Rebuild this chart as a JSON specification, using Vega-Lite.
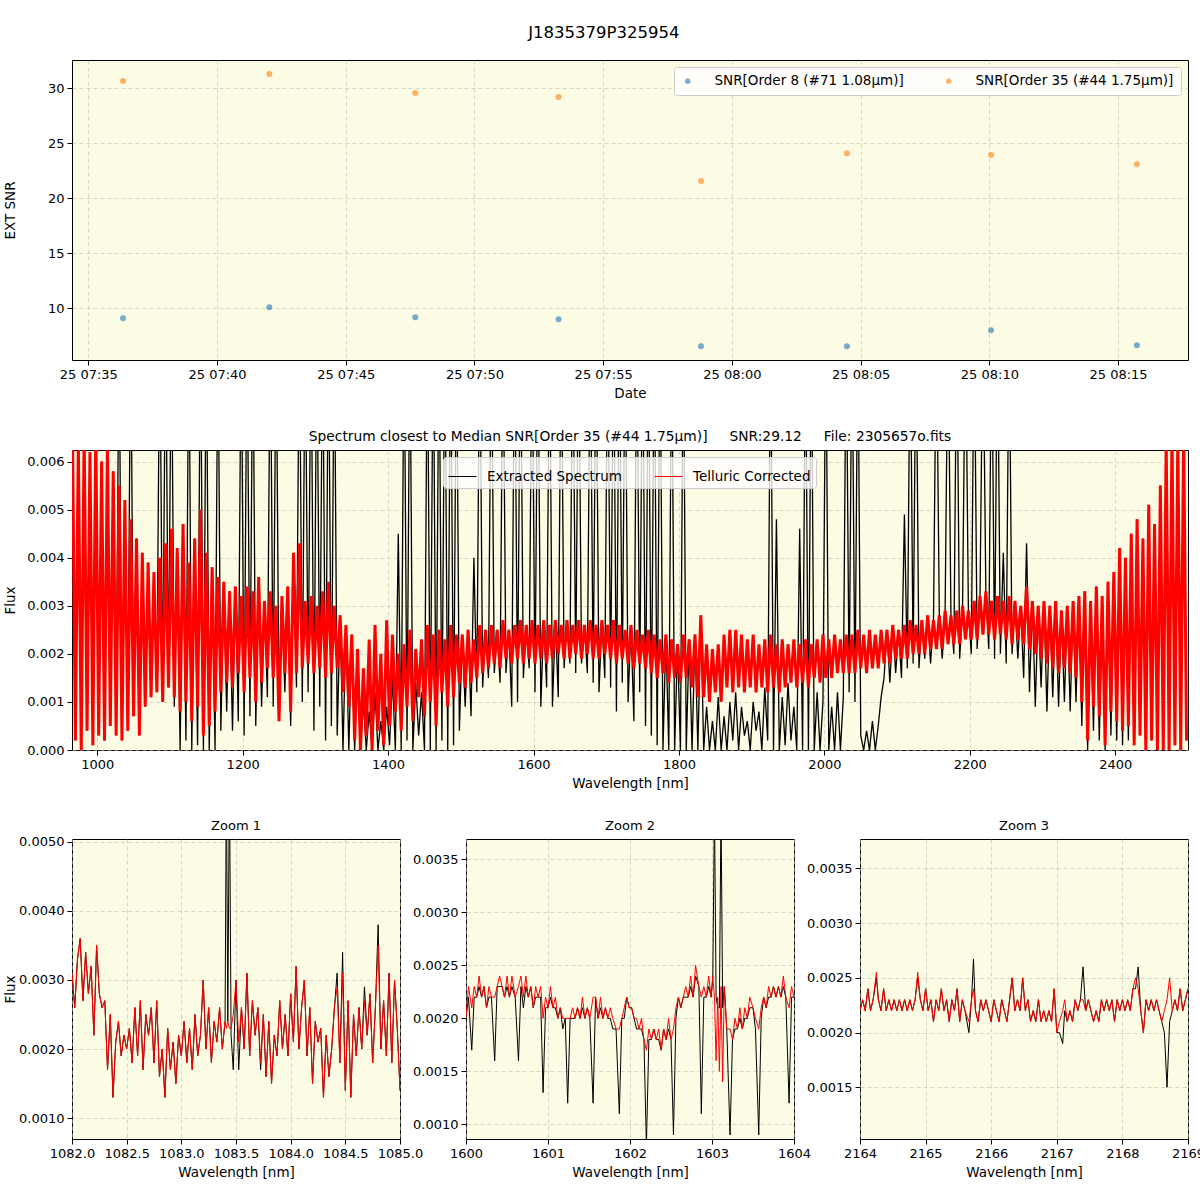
{
"$schema": "https://vega.github.io/schema/vega-lite/v6.json",
"background": "white",
"padding": {"left": 2, "top": 25, "right": 0, "bottom": 0},
"title": {"text": "J1835379P325954", "fontSize": 16.5, "fontWeight": "normal", "font": "DejaVu Sans", "anchor": "middle", "offset": 18, "color": "black"},
"config": {
 "font": "DejaVu Sans",
 "view": {"fill": "#FCFBE3", "stroke": "black", "strokeWidth": 1},
 "axis": {"labelFont": "DejaVu Sans", "labelFontSize": 13, "labelColor": "black", "titleFont": "DejaVu Sans", "titleFontSize": 13.5, "titleFontWeight": "normal", "titleColor": "black", "domain": false, "tickColor": "black", "tickSize": 5, "tickWidth": 1, "labelPadding": 3, "titlePadding": 5, "grid": true, "gridColor": "#b8b8b8", "gridDash": [4, 3], "gridWidth": 0.8, "gridOpacity": 0.7, "labelFlush": false, "labelOverlap": false},
 "title": {"font": "DejaVu Sans", "fontWeight": "normal", "color": "black"},
 "legend": {"labelFont": "DejaVu Sans", "labelFontSize": 13.5, "labelColor": "black", "labelLimit": 400}
},
"datasets": {
 "snr": [
  {"t": 1685000181000, "snr": 9.09, "s": "SNR[Order 8 (#71 1.08μm)]"},
  {"t": 1685000522000, "snr": 10.09, "s": "SNR[Order 8 (#71 1.08μm)]"},
  {"t": 1685000862000, "snr": 9.18, "s": "SNR[Order 8 (#71 1.08μm)]"},
  {"t": 1685001196000, "snr": 9.0, "s": "SNR[Order 8 (#71 1.08μm)]"},
  {"t": 1685001528000, "snr": 6.55, "s": "SNR[Order 8 (#71 1.08μm)]"},
  {"t": 1685001868000, "snr": 6.55, "s": "SNR[Order 8 (#71 1.08μm)]"},
  {"t": 1685002204000, "snr": 8.0, "s": "SNR[Order 8 (#71 1.08μm)]"},
  {"t": 1685002544000, "snr": 6.64, "s": "SNR[Order 8 (#71 1.08μm)]"},
  {"t": 1685000181000, "snr": 30.64, "s": "SNR[Order 35 (#44 1.75μm)]"},
  {"t": 1685000522000, "snr": 31.27, "s": "SNR[Order 35 (#44 1.75μm)]"},
  {"t": 1685000862000, "snr": 29.55, "s": "SNR[Order 35 (#44 1.75μm)]"},
  {"t": 1685001196000, "snr": 29.18, "s": "SNR[Order 35 (#44 1.75μm)]"},
  {"t": 1685001528000, "snr": 21.55, "s": "SNR[Order 35 (#44 1.75μm)]"},
  {"t": 1685001868000, "snr": 24.09, "s": "SNR[Order 35 (#44 1.75μm)]"},
  {"t": 1685002204000, "snr": 23.91, "s": "SNR[Order 35 (#44 1.75μm)]"},
  {"t": 1685002544000, "snr": 23.09, "s": "SNR[Order 35 (#44 1.75μm)]"}
 ],
 "mid": [
  {"x":966,"r":0.0065,"b":0.0065},{"x":970,"r":0.0002,"b":0.0002},{"x":974,"r":0.0064,"b":0.0064},{"x":978,"r":0.0000,"b":0.0000},
  {"x":982,"r":0.0066,"b":0.0066},{"x":986,"r":0.0004,"b":0.0004},{"x":990,"r":0.0062,"b":0.0062},{"x":994,"r":0.0001,"b":0.0001},
  {"x":998,"r":0.0066,"b":0.0066},{"x":1002,"r":0.0003,"b":0.0003},{"x":1006,"r":0.0060,"b":0.0060},{"x":1010,"r":0.0002,"b":0.0002},
  {"x":1014,"r":0.0063,"b":0.0063},{"x":1018,"r":0.0005,"b":0.0005},{"x":1022,"r":0.0058,"b":0.0058},{"x":1026,"r":0.0003,"b":0.0003},
  {"x":1030,"r":0.0055,"b":0.009},{"x":1034,"r":0.0002,"b":0.0002},
  {"x":1038,"r":0.0052,"b":0.0052},{"x":1042,"r":0.0004,"b":0.0004},{"x":1046,"r":0.0048,"b":0.009},{"x":1050,"r":0.0007,"b":0.0007},
  {"x":1054,"r":0.0044,"b":0.0044},{"x":1058,"r":0.0003,"b":0.0003},{"x":1062,"r":0.0041,"b":0.0041},{"x":1066,"r":0.0009,"b":0.0009},
  {"x":1070,"r":0.0039,"b":0.0039},{"x":1074,"r":0.0011,"b":0.0011},{"x":1078,"r":0.0037,"b":0.0037},{"x":1082,"r":0.0012,"b":0.0012},
  {"x":1086,"r":0.0040,"b":0.009},{"x":1090,"r":0.0010,"b":0.0010},{"x":1094,"r":0.0043,"b":0.009},{"x":1098,"r":0.0013,"b":0.0013},
  {"x":1102,"r":0.0046,"b":0.009},{"x":1106,"r":0.0011,"b":0.0009},{"x":1110,"r":0.0042,"b":0.0042},{"x":1114,"r":0.0008,"b":0.0000},
  {"x":1118,"r":0.0047,"b":0.0047},{"x":1122,"r":0.0010,"b":0.0002},{"x":1126,"r":0.0039,"b":0.009},{"x":1130,"r":0.0006,"b":0.0000},
  {"x":1134,"r":0.0044,"b":0.0044},{"x":1138,"r":0.0009,"b":0.0001},{"x":1142,"r":0.0050,"b":0.009},{"x":1146,"r":0.0003,"b":0.0000},
  {"x":1150,"r":0.0041,"b":0.009},{"x":1154,"r":0.0005,"b":0.0000},{"x":1158,"r":0.0038,"b":0.0038},{"x":1162,"r":0.0008,"b":0.0000},
  {"x":1166,"r":0.0036,"b":0.009},{"x":1170,"r":0.0012,"b":0.0004},
  {"x":1174,"r":0.0035,"b":0.0035},{"x":1178,"r":0.0014,"b":0.0008},{"x":1182,"r":0.0033,"b":0.0033},{"x":1186,"r":0.0013,"b":0.0004},
  {"x":1190,"r":0.0034,"b":0.0034},{"x":1194,"r":0.0016,"b":0.0006},{"x":1198,"r":0.0032,"b":0.009},{"x":1202,"r":0.0012,"b":0.0003},
  {"x":1206,"r":0.0034,"b":0.009},{"x":1210,"r":0.0015,"b":0.0007},{"x":1214,"r":0.0033,"b":0.009},{"x":1218,"r":0.0010,"b":0.0005},
  {"x":1222,"r":0.0036,"b":0.0036},{"x":1226,"r":0.0014,"b":0.0009},{"x":1230,"r":0.0031,"b":0.0031},{"x":1234,"r":0.0017,"b":0.0011},
  {"x":1238,"r":0.0033,"b":0.009},{"x":1242,"r":0.0015,"b":0.0009},{"x":1246,"r":0.0030,"b":0.009},{"x":1250,"r":0.0006,"b":0.0006},
  {"x":1254,"r":0.0032,"b":0.0032},{"x":1258,"r":0.0016,"b":0.0012},{"x":1262,"r":0.0034,"b":0.0034},{"x":1266,"r":0.0008,"b":0.0005},
  {"x":1270,"r":0.0041,"b":0.0041},{"x":1274,"r":0.0016,"b":0.0013},{"x":1278,"r":0.0043,"b":0.009},{"x":1282,"r":0.0017,"b":0.0010},
  {"x":1286,"r":0.0031,"b":0.009},{"x":1290,"r":0.0018,"b":0.0012},{"x":1294,"r":0.0032,"b":0.009},{"x":1298,"r":0.0016,"b":0.0004},
  {"x":1302,"r":0.0030,"b":0.009},{"x":1306,"r":0.0017,"b":0.0009},{"x":1310,"r":0.0033,"b":0.009},{"x":1314,"r":0.0015,"b":0.0002},
  {"x":1318,"r":0.0035,"b":0.009},{"x":1322,"r":0.0016,"b":0.0005},{"x":1326,"r":0.0030,"b":0.009},{"x":1330,"r":0.0017,"b":0.0003},
  {"x":1334,"r":0.0028,"b":0.0028},{"x":1338,"r":0.0012,"b":0.0000},{"x":1342,"r":0.0026,"b":0.0026},{"x":1346,"r":0.0009,"b":0.0000},
  {"x":1350,"r":0.0024,"b":0.0024},
  {"x":1354,"r":0.0002,"b":0.0000},{"x":1358,"r":0.0021,"b":0.0021},{"x":1362,"r":0.0000,"b":0.0000},{"x":1366,"r":0.0017,"b":0.0010},
  {"x":1370,"r":0.0003,"b":0.0000},{"x":1374,"r":0.0023,"b":0.0008},{"x":1378,"r":0.0000,"b":0.0000},{"x":1382,"r":0.0026,"b":0.0012},
  {"x":1386,"r":0.0004,"b":0.0000},{"x":1390,"r":0.0020,"b":0.0006},{"x":1394,"r":0.0001,"b":0.0000},{"x":1398,"r":0.0027,"b":0.0009},
  {"x":1402,"r":0.0005,"b":0.0001},{"x":1406,"r":0.0024,"b":0.0015},{"x":1410,"r":0.0008,"b":0.0000},{"x":1414,"r":0.0020,"b":0.0045},
  {"x":1418,"r":0.0004,"b":0.0000},{"x":1422,"r":0.0022,"b":0.009},{"x":1426,"r":0.0009,"b":0.0002},{"x":1430,"r":0.0025,"b":0.009},
  {"x":1434,"r":0.0006,"b":0.0000},{"x":1438,"r":0.0021,"b":0.0014},{"x":1442,"r":0.0011,"b":0.0003},{"x":1446,"r":0.0023,"b":0.0012},
  {"x":1450,"r":0.0007,"b":0.0000},{"x":1454,"r":0.0026,"b":0.009},{"x":1458,"r":0.0010,"b":0.0000},{"x":1462,"r":0.0024,"b":0.009},
  {"x":1466,"r":0.0005,"b":0.0000},{"x":1470,"r":0.0025,"b":0.009},{"x":1474,"r":0.0012,"b":0.0002},{"x":1478,"r":0.0023,"b":0.009},
  {"x":1482,"r":0.0009,"b":0.0000},{"x":1486,"r":0.0026,"b":0.009},{"x":1490,"r":0.0011,"b":0.0001},{"x":1494,"r":0.0024,"b":0.009},
  {"x":1498,"r":0.0014,"b":0.0004},
  {"x":1502,"r":0.0024,"b":0.0024},{"x":1506,"r":0.0013,"b":0.0009},{"x":1510,"r":0.0025,"b":0.0025},{"x":1514,"r":0.0014,"b":0.0007},
  {"x":1518,"r":0.0023,"b":0.0040},{"x":1522,"r":0.0015,"b":0.0012},{"x":1526,"r":0.0026,"b":0.009},{"x":1530,"r":0.0016,"b":0.0013},
  {"x":1534,"r":0.0025,"b":0.0025},{"x":1538,"r":0.0017,"b":0.0015},{"x":1542,"r":0.0026,"b":0.009},{"x":1546,"r":0.0018,"b":0.0016},
  {"x":1550,"r":0.0025,"b":0.0025},{"x":1554,"r":0.0017,"b":0.0014},{"x":1558,"r":0.0027,"b":0.009},{"x":1562,"r":0.0019,"b":0.0016},
  {"x":1566,"r":0.0025,"b":0.0025},{"x":1570,"r":0.0018,"b":0.0009},{"x":1574,"r":0.0026,"b":0.009},{"x":1578,"r":0.0019,"b":0.0010},
  {"x":1582,"r":0.0027,"b":0.009},{"x":1586,"r":0.0018,"b":0.0015},{"x":1590,"r":0.0026,"b":0.0026},{"x":1594,"r":0.0019,"b":0.0017},
  {"x":1598,"r":0.0027,"b":0.009},{"x":1602,"r":0.0018,"b":0.0012},{"x":1606,"r":0.0026,"b":0.009},{"x":1610,"r":0.0019,"b":0.0009},
  {"x":1614,"r":0.0027,"b":0.0027},{"x":1618,"r":0.0018,"b":0.0013},{"x":1622,"r":0.0026,"b":0.009},{"x":1626,"r":0.0019,"b":0.0009},
  {"x":1630,"r":0.0027,"b":0.0027},{"x":1634,"r":0.0020,"b":0.0011},{"x":1638,"r":0.0026,"b":0.009},{"x":1642,"r":0.0019,"b":0.0017},
  {"x":1646,"r":0.0027,"b":0.0027},{"x":1650,"r":0.0019,"b":0.0018},{"x":1654,"r":0.0026,"b":0.009},{"x":1658,"r":0.0020,"b":0.0016},
  {"x":1662,"r":0.0027,"b":0.009},{"x":1666,"r":0.0019,"b":0.0018},{"x":1670,"r":0.0026,"b":0.0026},{"x":1674,"r":0.0020,"b":0.0016},
  {"x":1678,"r":0.0027,"b":0.009},{"x":1682,"r":0.0019,"b":0.0014},{"x":1686,"r":0.0026,"b":0.009},{"x":1690,"r":0.0019,"b":0.0012},
  {"x":1694,"r":0.0027,"b":0.0027},{"x":1698,"r":0.0020,"b":0.0015},
  {"x":1702,"r":0.0026,"b":0.009},{"x":1706,"r":0.0019,"b":0.0013},{"x":1710,"r":0.0027,"b":0.009},{"x":1714,"r":0.0018,"b":0.0008},
  {"x":1718,"r":0.0026,"b":0.009},{"x":1722,"r":0.0019,"b":0.0014},{"x":1726,"r":0.0025,"b":0.009},{"x":1730,"r":0.0018,"b":0.0010},
  {"x":1734,"r":0.0026,"b":0.0026},{"x":1738,"r":0.0017,"b":0.0006},{"x":1742,"r":0.0025,"b":0.009},{"x":1746,"r":0.0018,"b":0.0012},
  {"x":1750,"r":0.0024,"b":0.009},{"x":1754,"r":0.0017,"b":0.0005},{"x":1758,"r":0.0025,"b":0.009},
  {"x":1762,"r":0.0016,"b":0.0003},{"x":1766,"r":0.0024,"b":0.009},{"x":1770,"r":0.0015,"b":0.0001},{"x":1774,"r":0.0023,"b":0.009},
  {"x":1778,"r":0.0016,"b":0.0000},{"x":1782,"r":0.0024,"b":0.0024},{"x":1786,"r":0.0014,"b":0.0000},{"x":1790,"r":0.0023,"b":0.009},
  {"x":1794,"r":0.0015,"b":0.0000},{"x":1798,"r":0.0022,"b":0.0022},{"x":1802,"r":0.0014,"b":0.0000},{"x":1806,"r":0.0024,"b":0.009},
  {"x":1810,"r":0.0015,"b":0.0000},{"x":1814,"r":0.0023,"b":0.0023},{"x":1818,"r":0.0013,"b":0.0000},{"x":1822,"r":0.0024,"b":0.0024},
  {"x":1826,"r":0.0011,"b":0.0000},{"x":1830,"r":0.0028,"b":0.0028},
  {"x":1834,"r":0.0011,"b":0.0000},{"x":1838,"r":0.0022,"b":0.0009},{"x":1842,"r":0.0010,"b":0.0000},{"x":1846,"r":0.0021,"b":0.0006},
  {"x":1850,"r":0.0012,"b":0.0000},{"x":1854,"r":0.0022,"b":0.0011},{"x":1858,"r":0.0010,"b":0.0000},{"x":1862,"r":0.0024,"b":0.0007},
  {"x":1866,"r":0.0013,"b":0.0000},{"x":1870,"r":0.0025,"b":0.0010},
  {"x":1874,"r":0.0012,"b":0.0002},{"x":1878,"r":0.0025,"b":0.0012},{"x":1882,"r":0.0013,"b":0.0000},{"x":1886,"r":0.0024,"b":0.0009},
  {"x":1890,"r":0.0012,"b":0.0003},{"x":1894,"r":0.0023,"b":0.0006},{"x":1898,"r":0.0013,"b":0.0000},{"x":1902,"r":0.0024,"b":0.0010},
  {"x":1906,"r":0.0012,"b":0.0004},{"x":1910,"r":0.0022,"b":0.0008},{"x":1914,"r":0.0013,"b":0.0000},{"x":1918,"r":0.0023,"b":0.0013},
  {"x":1922,"r":0.0012,"b":0.0002},{"x":1926,"r":0.0024,"b":0.009},{"x":1930,"r":0.0013,"b":0.0000},{"x":1934,"r":0.0022,"b":0.0048},
  {"x":1938,"r":0.0012,"b":0.0000},{"x":1942,"r":0.0023,"b":0.0011},{"x":1946,"r":0.0013,"b":0.0001},{"x":1950,"r":0.0022,"b":0.0014},
  {"x":1954,"r":0.0014,"b":0.0002},{"x":1958,"r":0.0023,"b":0.0009},
  {"x":1962,"r":0.0013,"b":0.0000},{"x":1966,"r":0.0022,"b":0.0046},{"x":1970,"r":0.0014,"b":0.0000},{"x":1974,"r":0.0023,"b":0.009},
  {"x":1978,"r":0.0013,"b":0.0000},{"x":1982,"r":0.0022,"b":0.009},{"x":1986,"r":0.0015,"b":0.0000},{"x":1990,"r":0.0023,"b":0.0012},
  {"x":1994,"r":0.0014,"b":0.0000},{"x":1998,"r":0.0024,"b":0.0010},{"x":2002,"r":0.0015,"b":0.009},{"x":2006,"r":0.0023,"b":0.0000},
  {"x":2010,"r":0.0015,"b":0.0009},{"x":2014,"r":0.0024,"b":0.0000},{"x":2018,"r":0.0016,"b":0.0012},{"x":2022,"r":0.0023,"b":0.0000},
  {"x":2026,"r":0.0016,"b":0.0011},{"x":2030,"r":0.0024,"b":0.009},
  {"x":2034,"r":0.0016,"b":0.0012},{"x":2038,"r":0.0024,"b":0.009},{"x":2042,"r":0.0016,"b":0.0010},{"x":2046,"r":0.0025,"b":0.009},
  {"x":2050,"r":0.0017,"b":0.0003},{"x":2054,"r":0.0024,"b":0.0000},{"x":2058,"r":0.0016,"b":0.0004},{"x":2062,"r":0.0025,"b":0.0000},
  {"x":2066,"r":0.0017,"b":0.0006},{"x":2070,"r":0.0024,"b":0.0000},{"x":2074,"r":0.0017,"b":0.0005},{"x":2078,"r":0.0025,"b":0.0011},
  {"x":2082,"r":0.0018,"b":0.0015},{"x":2086,"r":0.0025,"b":0.0025},{"x":2090,"r":0.0018,"b":0.0014},{"x":2094,"r":0.0026,"b":0.0026},
  {"x":2098,"r":0.0019,"b":0.0016},{"x":2102,"r":0.0025,"b":0.0025},{"x":2106,"r":0.0019,"b":0.0015},{"x":2110,"r":0.0026,"b":0.0049},
  {"x":2114,"r":0.0019,"b":0.0017},{"x":2118,"r":0.0027,"b":0.009},{"x":2122,"r":0.0020,"b":0.0018},{"x":2126,"r":0.0026,"b":0.009},
  {"x":2130,"r":0.0020,"b":0.0017},{"x":2134,"r":0.0027,"b":0.0027},{"x":2138,"r":0.0020,"b":0.0019},{"x":2142,"r":0.0028,"b":0.0028},
  {"x":2146,"r":0.0021,"b":0.0018},{"x":2150,"r":0.0027,"b":0.0027},
  {"x":2154,"r":0.0021,"b":0.009},{"x":2158,"r":0.0028,"b":0.0028},{"x":2162,"r":0.0021,"b":0.0019},{"x":2166,"r":0.0029,"b":0.0029},
  {"x":2170,"r":0.0022,"b":0.009},{"x":2174,"r":0.0028,"b":0.0028},{"x":2178,"r":0.0022,"b":0.0020},{"x":2182,"r":0.0029,"b":0.009},
  {"x":2186,"r":0.0022,"b":0.0019},{"x":2190,"r":0.0030,"b":0.0030},{"x":2194,"r":0.0023,"b":0.009},{"x":2198,"r":0.0029,"b":0.0029},
  {"x":2202,"r":0.0023,"b":0.0020},{"x":2206,"r":0.0031,"b":0.009},{"x":2210,"r":0.0023,"b":0.0021},{"x":2214,"r":0.0032,"b":0.0032},
  {"x":2218,"r":0.0024,"b":0.009},{"x":2222,"r":0.0033,"b":0.0033},{"x":2226,"r":0.0024,"b":0.0021},{"x":2230,"r":0.0031,"b":0.009},
  {"x":2234,"r":0.0023,"b":0.0019},{"x":2238,"r":0.0032,"b":0.009},{"x":2242,"r":0.0024,"b":0.0020},{"x":2246,"r":0.0031,"b":0.0041},
  {"x":2250,"r":0.0023,"b":0.0018},{"x":2254,"r":0.0032,"b":0.009},{"x":2258,"r":0.0022,"b":0.0020},{"x":2262,"r":0.0031,"b":0.0031},
  {"x":2266,"r":0.0023,"b":0.0019},{"x":2270,"r":0.0030,"b":0.0030},{"x":2274,"r":0.0022,"b":0.0015},{"x":2278,"r":0.0034,"b":0.0043},
  {"x":2282,"r":0.0021,"b":0.0012},{"x":2286,"r":0.0031,"b":0.0031},{"x":2290,"r":0.0020,"b":0.0009},{"x":2294,"r":0.0030,"b":0.0030},
  {"x":2298,"r":0.0019,"b":0.0013},{"x":2302,"r":0.0031,"b":0.0031},{"x":2306,"r":0.0018,"b":0.0008},{"x":2310,"r":0.0030,"b":0.0030},
  {"x":2314,"r":0.0017,"b":0.0011},{"x":2318,"r":0.0031,"b":0.0031},{"x":2322,"r":0.0016,"b":0.0009},{"x":2326,"r":0.0029,"b":0.0029},
  {"x":2330,"r":0.0017,"b":0.0010},{"x":2334,"r":0.0030,"b":0.0030},{"x":2338,"r":0.0016,"b":0.0008},{"x":2342,"r":0.0031,"b":0.0031},
  {"x":2346,"r":0.0015,"b":0.0010},
  {"x":2350,"r":0.0032,"b":0.0032},{"x":2354,"r":0.0010,"b":0.0005},{"x":2358,"r":0.0033,"b":0.0033},{"x":2362,"r":0.0002,"b":0.0000},
  {"x":2366,"r":0.0031,"b":0.0031},{"x":2370,"r":0.0009,"b":0.0004},{"x":2374,"r":0.0034,"b":0.0034},{"x":2378,"r":0.0007,"b":0.0002},
  {"x":2382,"r":0.0032,"b":0.0032},{"x":2386,"r":0.0001,"b":0.0000},{"x":2390,"r":0.0035,"b":0.0035},{"x":2394,"r":0.0008,"b":0.0003},
  {"x":2398,"r":0.0037,"b":0.0037},{"x":2402,"r":0.0006,"b":0.0002},{"x":2406,"r":0.0042,"b":0.0042},{"x":2410,"r":0.0004,"b":0.0001},
  {"x":2414,"r":0.0040,"b":0.0040},{"x":2418,"r":0.0005,"b":0.0002},
  {"x":2422,"r":0.0045,"b":0.0045},{"x":2426,"r":0.0001,"b":0.0001},{"x":2430,"r":0.0048,"b":0.0048},{"x":2434,"r":0.0003,"b":0.0003},
  {"x":2438,"r":0.0044,"b":0.0044},{"x":2442,"r":0.0000,"b":0.0000},{"x":2446,"r":0.0051,"b":0.0051},{"x":2450,"r":0.0002,"b":0.0002},
  {"x":2454,"r":0.0047,"b":0.0047},{"x":2458,"r":0.0000,"b":0.0000},{"x":2462,"r":0.0055,"b":0.0055},
  {"x":2466,"r":0.0000,"b":0.0000},{"x":2470,"r":0.0064,"b":0.0064},{"x":2474,"r":0.0000,"b":0.0000},{"x":2478,"r":0.0066,"b":0.0066},
  {"x":2482,"r":0.0001,"b":0.0001},{"x":2486,"r":0.0065,"b":0.0065},{"x":2490,"r":0.0000,"b":0.0000},{"x":2494,"r":0.0066,"b":0.0066},
  {"x":2498,"r":0.0002,"b":0.0002}
 ],
 "z1": [
  {"x":1082.000,"r":0.0031,"b":0.0031},{"x":1082.025,"r":0.0026,"b":0.0026},{"x":1082.050,"r":0.0033,"b":0.0033},{"x":1082.075,"r":0.0036,"b":0.0036},
  {"x":1082.100,"r":0.0027,"b":0.0027},{"x":1082.125,"r":0.0034,"b":0.0034},{"x":1082.150,"r":0.0028,"b":0.0028},{"x":1082.175,"r":0.0032,"b":0.0032},
  {"x":1082.200,"r":0.0022,"b":0.0022},{"x":1082.225,"r":0.0035,"b":0.0035},{"x":1082.250,"r":0.0028,"b":0.0028},{"x":1082.275,"r":0.0026,"b":0.0026},
  {"x":1082.300,"r":0.0027,"b":0.0027},{"x":1082.325,"r":0.0017,"b":0.0017},{"x":1082.350,"r":0.0025,"b":0.0025},{"x":1082.375,"r":0.0013,"b":0.0013},
  {"x":1082.400,"r":0.0021,"b":0.0021},{"x":1082.425,"r":0.0024,"b":0.0024},{"x":1082.450,"r":0.0019,"b":0.0019},{"x":1082.475,"r":0.0022,"b":0.0022},
  {"x":1082.500,"r":0.0020,"b":0.0020},{"x":1082.525,"r":0.0023,"b":0.0023},{"x":1082.550,"r":0.0018,"b":0.0018},{"x":1082.575,"r":0.0026,"b":0.0026},
  {"x":1082.600,"r":0.0019,"b":0.0019},{"x":1082.625,"r":0.0027,"b":0.0027},{"x":1082.650,"r":0.0017,"b":0.0017},{"x":1082.675,"r":0.0025,"b":0.0025},
  {"x":1082.700,"r":0.0022,"b":0.0022},{"x":1082.725,"r":0.0026,"b":0.0026},{"x":1082.750,"r":0.0018,"b":0.0018},{"x":1082.775,"r":0.0027,"b":0.0027},
  {"x":1082.800,"r":0.0016,"b":0.0016},{"x":1082.825,"r":0.0020,"b":0.0020},{"x":1082.850,"r":0.0013,"b":0.0013},{"x":1082.875,"r":0.0023,"b":0.0023},
  {"x":1082.900,"r":0.0017,"b":0.0017},{"x":1082.925,"r":0.0021,"b":0.0021},{"x":1082.950,"r":0.0015,"b":0.0015},{"x":1082.975,"r":0.0022,"b":0.0022},
  {"x":1083.000,"r":0.0019,"b":0.0019},{"x":1083.025,"r":0.0024,"b":0.0024},{"x":1083.050,"r":0.0018,"b":0.0018},{"x":1083.075,"r":0.0023,"b":0.0023},
  {"x":1083.100,"r":0.0017,"b":0.0017},{"x":1083.125,"r":0.0025,"b":0.0025},{"x":1083.150,"r":0.0019,"b":0.0019},{"x":1083.175,"r":0.0022,"b":0.0022},
  {"x":1083.200,"r":0.0030,"b":0.0030},{"x":1083.225,"r":0.0020,"b":0.0020},{"x":1083.250,"r":0.0026,"b":0.0026},{"x":1083.275,"r":0.0018,"b":0.0018},
  {"x":1083.300,"r":0.0024,"b":0.0024},{"x":1083.325,"r":0.0021,"b":0.0021},{"x":1083.350,"r":0.0026,"b":0.0026},{"x":1083.375,"r":0.0020,"b":0.0020},
  {"x":1083.400,"r":0.0024,"b":0.0024},{"x":1083.412,"r":0.0023,"b":0.0060},{"x":1083.425,"r":0.0024,"b":0.0024},{"x":1083.440,"r":0.0023,"b":0.0060},
  {"x":1083.455,"r":0.0023,"b":0.0022},{"x":1083.475,"r":0.0025,"b":0.0017},{"x":1083.500,"r":0.0030,"b":0.0030},{"x":1083.525,"r":0.0021,"b":0.0017},
  {"x":1083.550,"r":0.0026,"b":0.0026},{"x":1083.575,"r":0.0020,"b":0.0020},{"x":1083.600,"r":0.0031,"b":0.0031},{"x":1083.625,"r":0.0019,"b":0.0019},
  {"x":1083.650,"r":0.0027,"b":0.0027},{"x":1083.675,"r":0.0022,"b":0.0022},{"x":1083.700,"r":0.0026,"b":0.0026},{"x":1083.725,"r":0.0018,"b":0.0017},
  {"x":1083.750,"r":0.0025,"b":0.0025},{"x":1083.775,"r":0.0016,"b":0.0016},{"x":1083.800,"r":0.0024,"b":0.0024},{"x":1083.825,"r":0.0015,"b":0.0015},
  {"x":1083.850,"r":0.0022,"b":0.0022},{"x":1083.875,"r":0.0019,"b":0.0019},{"x":1083.900,"r":0.0027,"b":0.0027},{"x":1083.925,"r":0.0020,"b":0.0020},
  {"x":1083.950,"r":0.0025,"b":0.0025},{"x":1083.975,"r":0.0019,"b":0.0019},{"x":1084.000,"r":0.0028,"b":0.0028},{"x":1084.025,"r":0.0021,"b":0.0021},
  {"x":1084.050,"r":0.0032,"b":0.0032},{"x":1084.075,"r":0.0020,"b":0.0020},{"x":1084.100,"r":0.0026,"b":0.0026},{"x":1084.125,"r":0.0030,"b":0.0030},
  {"x":1084.150,"r":0.0019,"b":0.0019},{"x":1084.175,"r":0.0026,"b":0.0026},{"x":1084.200,"r":0.0015,"b":0.0015},{"x":1084.225,"r":0.0024,"b":0.0024},
  {"x":1084.250,"r":0.0021,"b":0.0021},{"x":1084.275,"r":0.0023,"b":0.0023},{"x":1084.300,"r":0.0013,"b":0.0013},{"x":1084.325,"r":0.0022,"b":0.0022},
  {"x":1084.350,"r":0.0016,"b":0.0016},{"x":1084.375,"r":0.0020,"b":0.0020},{"x":1084.400,"r":0.0026,"b":0.0026},{"x":1084.425,"r":0.0029,"b":0.0031},
  {"x":1084.450,"r":0.0018,"b":0.0018},{"x":1084.475,"r":0.0031,"b":0.0034},{"x":1084.500,"r":0.0014,"b":0.0014},{"x":1084.525,"r":0.0027,"b":0.0027},
  {"x":1084.550,"r":0.0013,"b":0.0013},{"x":1084.575,"r":0.0025,"b":0.0025},{"x":1084.600,"r":0.0019,"b":0.0019},{"x":1084.625,"r":0.0026,"b":0.0026},
  {"x":1084.650,"r":0.0020,"b":0.0020},{"x":1084.675,"r":0.0027,"b":0.0029},{"x":1084.700,"r":0.0022,"b":0.0022},{"x":1084.725,"r":0.0028,"b":0.0028},
  {"x":1084.750,"r":0.0018,"b":0.0018},{"x":1084.775,"r":0.0026,"b":0.0026},{"x":1084.800,"r":0.0035,"b":0.0038},{"x":1084.825,"r":0.0020,"b":0.0020},
  {"x":1084.850,"r":0.0027,"b":0.0027},{"x":1084.875,"r":0.0019,"b":0.0019},{"x":1084.900,"r":0.0031,"b":0.0031},{"x":1084.925,"r":0.0018,"b":0.0018},
  {"x":1084.950,"r":0.0030,"b":0.0030},{"x":1084.975,"r":0.0023,"b":0.0023},{"x":1085.000,"r":0.0014,"b":0.0014}
 ],
 "z2": [
  {"x":1600.00,"r":0.0020,"b":0.0020},{"x":1600.03,"r":0.0023,"b":0.0022},{"x":1600.07,"r":0.0021,"b":0.0017},{"x":1600.10,"r":0.0023,"b":0.0022},
  {"x":1600.13,"r":0.0022,"b":0.0022},{"x":1600.16,"r":0.0024,"b":0.0023},{"x":1600.19,"r":0.0022,"b":0.0022},{"x":1600.22,"r":0.0023,"b":0.0023},
  {"x":1600.25,"r":0.0021,"b":0.0021},{"x":1600.28,"r":0.0023,"b":0.0022},{"x":1600.31,"r":0.0022,"b":0.0022},{"x":1600.35,"r":0.0022,"b":0.0016},
  {"x":1600.38,"r":0.0023,"b":0.0023},{"x":1600.41,"r":0.0024,"b":0.0023},{"x":1600.44,"r":0.0023,"b":0.0023},{"x":1600.47,"r":0.0022,"b":0.0022},
  {"x":1600.50,"r":0.0024,"b":0.0023},{"x":1600.53,"r":0.0022,"b":0.0022},{"x":1600.56,"r":0.0024,"b":0.0023},{"x":1600.60,"r":0.0022,"b":0.0022},
  {"x":1600.64,"r":0.0023,"b":0.0016},{"x":1600.67,"r":0.0024,"b":0.0023},{"x":1600.70,"r":0.0022,"b":0.0021},{"x":1600.73,"r":0.0024,"b":0.0023},
  {"x":1600.76,"r":0.0022,"b":0.0022},{"x":1600.79,"r":0.0023,"b":0.0023},{"x":1600.82,"r":0.0021,"b":0.0021},{"x":1600.85,"r":0.0023,"b":0.0022},
  {"x":1600.88,"r":0.0022,"b":0.0022},{"x":1600.91,"r":0.0023,"b":0.0022},{"x":1600.94,"r":0.0020,"b":0.0013},{"x":1600.97,"r":0.0022,"b":0.0021},
  {"x":1601.00,"r":0.0021,"b":0.0021},{"x":1601.03,"r":0.0023,"b":0.0022},{"x":1601.06,"r":0.0021,"b":0.0021},{"x":1601.09,"r":0.0022,"b":0.0021},
  {"x":1601.12,"r":0.0020,"b":0.0020},{"x":1601.15,"r":0.0021,"b":0.0021},{"x":1601.18,"r":0.0020,"b":0.0019},{"x":1601.21,"r":0.0020,"b":0.0020},
  {"x":1601.24,"r":0.0020,"b":0.0012},{"x":1601.27,"r":0.0020,"b":0.0020},{"x":1601.30,"r":0.0021,"b":0.0020},{"x":1601.33,"r":0.0020,"b":0.0020},
  {"x":1601.36,"r":0.0021,"b":0.0021},{"x":1601.39,"r":0.0020,"b":0.0020},{"x":1601.42,"r":0.0022,"b":0.0021},{"x":1601.45,"r":0.0020,"b":0.0020},
  {"x":1601.48,"r":0.0021,"b":0.0021},{"x":1601.51,"r":0.0020,"b":0.0020},{"x":1601.55,"r":0.0022,"b":0.0012},{"x":1601.58,"r":0.0022,"b":0.0022},
  {"x":1601.61,"r":0.0020,"b":0.0020},{"x":1601.64,"r":0.0022,"b":0.0021},{"x":1601.67,"r":0.0020,"b":0.0020},{"x":1601.70,"r":0.0021,"b":0.0021},
  {"x":1601.73,"r":0.0020,"b":0.0020},{"x":1601.76,"r":0.0021,"b":0.0020},{"x":1601.79,"r":0.0020,"b":0.0019},{"x":1601.83,"r":0.0019,"b":0.0019},
  {"x":1601.87,"r":0.0019,"b":0.0011},{"x":1601.90,"r":0.0020,"b":0.0020},{"x":1601.93,"r":0.0021,"b":0.0020},{"x":1601.96,"r":0.0022,"b":0.0022},
  {"x":1601.99,"r":0.0021,"b":0.0021},{"x":1602.02,"r":0.0021,"b":0.0021},{"x":1602.05,"r":0.0020,"b":0.0020},{"x":1602.08,"r":0.0020,"b":0.0019},
  {"x":1602.11,"r":0.0019,"b":0.0019},{"x":1602.14,"r":0.0020,"b":0.0019},{"x":1602.17,"r":0.0018,"b":0.0018},{"x":1602.20,"r":0.0017,"b":0.0008},
  {"x":1602.23,"r":0.0019,"b":0.0018},{"x":1602.26,"r":0.0018,"b":0.0018},{"x":1602.29,"r":0.0019,"b":0.0019},{"x":1602.32,"r":0.0018,"b":0.0018},
  {"x":1602.35,"r":0.0019,"b":0.0018},{"x":1602.38,"r":0.0017,"b":0.0017},{"x":1602.41,"r":0.0019,"b":0.0019},{"x":1602.44,"r":0.0018,"b":0.0018},
  {"x":1602.47,"r":0.0020,"b":0.0019},{"x":1602.50,"r":0.0018,"b":0.0018},{"x":1602.53,"r":0.0019,"b":0.0009},{"x":1602.56,"r":0.0021,"b":0.0020},
  {"x":1602.59,"r":0.0022,"b":0.0022},{"x":1602.62,"r":0.0021,"b":0.0021},{"x":1602.65,"r":0.0022,"b":0.0022},{"x":1602.68,"r":0.0023,"b":0.0022},
  {"x":1602.71,"r":0.0022,"b":0.0022},{"x":1602.74,"r":0.0024,"b":0.0023},{"x":1602.77,"r":0.0022,"b":0.0022},{"x":1602.80,"r":0.0025,"b":0.0024},
  {"x":1602.84,"r":0.0023,"b":0.0023},{"x":1602.87,"r":0.0022,"b":0.0011},{"x":1602.90,"r":0.0023,"b":0.0022},{"x":1602.93,"r":0.0022,"b":0.0022},
  {"x":1602.96,"r":0.0024,"b":0.0023},{"x":1602.99,"r":0.0022,"b":0.0022},{"x":1603.01,"r":0.0024,"b":0.0024},{"x":1603.03,"r":0.0022,"b":0.0040},
  {"x":1603.05,"r":0.0016,"b":0.0022},{"x":1603.07,"r":0.0022,"b":0.0021},{"x":1603.09,"r":0.0015,"b":0.0021},{"x":1603.11,"r":0.0023,"b":0.0040},
  {"x":1603.13,"r":0.0014,"b":0.0021},{"x":1603.15,"r":0.0023,"b":0.0023},{"x":1603.18,"r":0.0019,"b":0.0019},{"x":1603.22,"r":0.0019,"b":0.0009},
  {"x":1603.25,"r":0.0018,"b":0.0018},{"x":1603.28,"r":0.0020,"b":0.0019},{"x":1603.31,"r":0.0019,"b":0.0019},{"x":1603.34,"r":0.0021,"b":0.0020},
  {"x":1603.37,"r":0.0019,"b":0.0019},{"x":1603.40,"r":0.0021,"b":0.0020},{"x":1603.43,"r":0.0020,"b":0.0020},{"x":1603.46,"r":0.0022,"b":0.0021},
  {"x":1603.50,"r":0.0021,"b":0.0021},{"x":1603.53,"r":0.0020,"b":0.0019},{"x":1603.57,"r":0.0019,"b":0.0009},{"x":1603.60,"r":0.0021,"b":0.0020},
  {"x":1603.63,"r":0.0022,"b":0.0022},{"x":1603.66,"r":0.0021,"b":0.0021},{"x":1603.69,"r":0.0023,"b":0.0022},{"x":1603.72,"r":0.0022,"b":0.0022},
  {"x":1603.75,"r":0.0023,"b":0.0023},{"x":1603.78,"r":0.0022,"b":0.0022},{"x":1603.81,"r":0.0023,"b":0.0023},{"x":1603.84,"r":0.0022,"b":0.0022},
  {"x":1603.87,"r":0.0024,"b":0.0023},{"x":1603.90,"r":0.0022,"b":0.0022},{"x":1603.94,"r":0.0021,"b":0.0012},{"x":1603.97,"r":0.0023,"b":0.0022},
  {"x":1604.00,"r":0.0022,"b":0.0022}
 ],
 "z3": [
  {"x":2164.00,"r":0.0022,"b":0.0022},{"x":2164.04,"r":0.0023,"b":0.0023},{"x":2164.08,"r":0.0022,"b":0.0022},{"x":2164.12,"r":0.0024,"b":0.0024},
  {"x":2164.16,"r":0.0022,"b":0.0022},{"x":2164.20,"r":0.0023,"b":0.0023},{"x":2164.25,"r":0.00255,"b":0.0025},{"x":2164.28,"r":0.0023,"b":0.0023},
  {"x":2164.32,"r":0.0022,"b":0.0022},{"x":2164.36,"r":0.0024,"b":0.0024},{"x":2164.40,"r":0.0022,"b":0.0022},{"x":2164.44,"r":0.0023,"b":0.0023},
  {"x":2164.48,"r":0.0022,"b":0.0022},{"x":2164.52,"r":0.0023,"b":0.0023},{"x":2164.56,"r":0.0022,"b":0.0022},{"x":2164.60,"r":0.0023,"b":0.0023},
  {"x":2164.64,"r":0.0022,"b":0.0022},{"x":2164.68,"r":0.0023,"b":0.0023},{"x":2164.72,"r":0.0022,"b":0.0022},{"x":2164.76,"r":0.0023,"b":0.0023},
  {"x":2164.80,"r":0.0022,"b":0.0022},{"x":2164.84,"r":0.0023,"b":0.0023},{"x":2164.88,"r":0.00255,"b":0.0025},{"x":2164.92,"r":0.0023,"b":0.0023},
  {"x":2164.96,"r":0.0022,"b":0.0022},{"x":2165.00,"r":0.0024,"b":0.0024},{"x":2165.04,"r":0.0022,"b":0.0022},{"x":2165.08,"r":0.0023,"b":0.0023},
  {"x":2165.12,"r":0.0021,"b":0.0021},{"x":2165.16,"r":0.0023,"b":0.0023},{"x":2165.20,"r":0.0022,"b":0.0022},{"x":2165.24,"r":0.0024,"b":0.0024},
  {"x":2165.28,"r":0.0022,"b":0.0022},{"x":2165.32,"r":0.0023,"b":0.0023},{"x":2165.36,"r":0.0021,"b":0.0021},{"x":2165.40,"r":0.0023,"b":0.0023},
  {"x":2165.44,"r":0.0022,"b":0.0022},{"x":2165.48,"r":0.0024,"b":0.0024},{"x":2165.52,"r":0.0021,"b":0.0021},{"x":2165.56,"r":0.0023,"b":0.0023},
  {"x":2165.60,"r":0.0022,"b":0.0022},{"x":2165.66,"r":0.0021,"b":0.0020},{"x":2165.70,"r":0.0023,"b":0.0023},{"x":2165.73,"r":0.0024,"b":0.00267},
  {"x":2165.76,"r":0.0022,"b":0.0022},{"x":2165.80,"r":0.0021,"b":0.0021},{"x":2165.84,"r":0.0023,"b":0.0023},{"x":2165.88,"r":0.0022,"b":0.0022},
  {"x":2165.92,"r":0.0023,"b":0.0023},{"x":2165.96,"r":0.0022,"b":0.0022},{"x":2166.00,"r":0.0021,"b":0.0021},{"x":2166.04,"r":0.0023,"b":0.0023},
  {"x":2166.08,"r":0.0022,"b":0.0022},{"x":2166.12,"r":0.0021,"b":0.0021},{"x":2166.16,"r":0.0023,"b":0.0023},{"x":2166.20,"r":0.0022,"b":0.0022},
  {"x":2166.24,"r":0.0021,"b":0.0021},{"x":2166.28,"r":0.0023,"b":0.0023},{"x":2166.32,"r":0.0025,"b":0.0025},{"x":2166.36,"r":0.0022,"b":0.0022},
  {"x":2166.40,"r":0.0023,"b":0.0023},{"x":2166.44,"r":0.0022,"b":0.0022},{"x":2166.48,"r":0.0025,"b":0.0025},{"x":2166.52,"r":0.0022,"b":0.0022},
  {"x":2166.56,"r":0.0023,"b":0.0023},{"x":2166.60,"r":0.0021,"b":0.0021},{"x":2166.64,"r":0.0022,"b":0.0022},{"x":2166.68,"r":0.0021,"b":0.0021},
  {"x":2166.72,"r":0.0023,"b":0.0023},{"x":2166.76,"r":0.0021,"b":0.0021},{"x":2166.80,"r":0.0022,"b":0.0022},{"x":2166.84,"r":0.0021,"b":0.0021},
  {"x":2166.88,"r":0.0022,"b":0.0022},{"x":2166.92,"r":0.0021,"b":0.0021},{"x":2166.96,"r":0.0024,"b":0.0024},{"x":2167.00,"r":0.0020,"b":0.0020},
  {"x":2167.04,"r":0.0021,"b":0.0020},{"x":2167.09,"r":0.0022,"b":0.0019},{"x":2167.12,"r":0.0023,"b":0.0022},{"x":2167.16,"r":0.0021,"b":0.0021},
  {"x":2167.20,"r":0.0022,"b":0.0022},{"x":2167.24,"r":0.0021,"b":0.0021},{"x":2167.28,"r":0.0023,"b":0.0023},{"x":2167.32,"r":0.0022,"b":0.0022},
  {"x":2167.36,"r":0.0023,"b":0.0023},{"x":2167.40,"r":0.0023,"b":0.0026},{"x":2167.44,"r":0.0022,"b":0.0022},{"x":2167.48,"r":0.0023,"b":0.0023},
  {"x":2167.52,"r":0.0022,"b":0.0022},{"x":2167.56,"r":0.0021,"b":0.0021},{"x":2167.60,"r":0.0022,"b":0.0022},{"x":2167.64,"r":0.0021,"b":0.0021},
  {"x":2167.68,"r":0.0023,"b":0.0023},{"x":2167.72,"r":0.0022,"b":0.0022},{"x":2167.76,"r":0.0023,"b":0.0023},{"x":2167.80,"r":0.0022,"b":0.0022},
  {"x":2167.84,"r":0.0023,"b":0.0023},{"x":2167.88,"r":0.0021,"b":0.0021},{"x":2167.92,"r":0.0023,"b":0.0023},{"x":2167.96,"r":0.0022,"b":0.0022},
  {"x":2168.00,"r":0.0023,"b":0.0023},{"x":2168.04,"r":0.0022,"b":0.0022},{"x":2168.08,"r":0.0023,"b":0.0023},{"x":2168.12,"r":0.0022,"b":0.0022},
  {"x":2168.16,"r":0.0024,"b":0.0024},{"x":2168.20,"r":0.0025,"b":0.0024},{"x":2168.24,"r":0.0024,"b":0.0026},{"x":2168.28,"r":0.0022,"b":0.0022},
  {"x":2168.32,"r":0.0020,"b":0.0020},{"x":2168.36,"r":0.0023,"b":0.0023},{"x":2168.40,"r":0.0022,"b":0.0022},{"x":2168.44,"r":0.0023,"b":0.0023},
  {"x":2168.48,"r":0.0022,"b":0.0022},{"x":2168.52,"r":0.0023,"b":0.0023},{"x":2168.56,"r":0.0022,"b":0.0022},{"x":2168.60,"r":0.0021,"b":0.0021},
  {"x":2168.64,"r":0.0022,"b":0.0020},{"x":2168.68,"r":0.0023,"b":0.0015},{"x":2168.72,"r":0.0025,"b":0.0021},{"x":2168.76,"r":0.0022,"b":0.0022},
  {"x":2168.80,"r":0.0023,"b":0.0023},{"x":2168.84,"r":0.0022,"b":0.0022},{"x":2168.88,"r":0.0024,"b":0.0024},{"x":2168.92,"r":0.0022,"b":0.0022},
  {"x":2168.96,"r":0.0023,"b":0.0023},{"x":2169.00,"r":0.0024,"b":0.0024}
 ]
},
"spacing": 29,
"resolve": {"scale": {"color": "independent"}, "legend": {"color": "independent"}},
"vconcat": [
 {
  "width": 1116, "height": 300,
  "data": {"name": "snr"},
  "mark": {"type": "point", "filled": true, "size": 36, "opacity": 0.6},
  "encoding": {
   "x": {"field": "t", "type": "temporal", "scale": {"type": "utc", "domain": [1685000062000, 1685002663000], "nice": false}, "axis": {"title": "Date", "format": "%d %H:%M", "values": [1685000100000, 1685000400000, 1685000700000, 1685001000000, 1685001300000, 1685001600000, 1685001900000, 1685002200000, 1685002500000]}},
   "y": {"field": "snr", "type": "quantitative", "scale": {"domain": [5.3, 32.55], "nice": false, "zero": false}, "axis": {"title": "EXT SNR", "values": [10, 15, 20, 25, 30], "minExtent": 51, "maxExtent": 51, "titlePadding": 4}},
   "color": {"field": "s", "type": "nominal", "scale": {"domain": ["SNR[Order 8 (#71 1.08μm)]", "SNR[Order 35 (#44 1.75μm)]"], "range": ["#1f77b4", "#ff7f0e"]}, "legend": {"orient": "top-right", "offset": 7, "direction": "horizontal", "title": null, "symbolType": "circle", "symbolSize": 30, "symbolOpacity": 0.6, "fillColor": "rgba(255,255,255,0.8)", "strokeColor": "#cccccc", "cornerRadius": 3, "padding": 7, "columnPadding": 38, "labelOffset": 20, "labelLimit": 400}}
  }
 },
 {
  "width": 1116, "height": 300,
  "title": {"text": "Spectrum closest to Median SNR[Order 35 (#44 1.75μm)]\u00a0\u00a0\u00a0\u00a0\u00a0SNR:29.12\u00a0\u00a0\u00a0\u00a0\u00a0File: 2305657o.fits", "fontSize": 13.8, "fontWeight": "normal", "offset": 6},
  "data": {"name": "mid"},
  "encoding": {
   "x": {"field": "x", "type": "quantitative", "scale": {"domain": [965.3, 2500], "nice": false, "zero": false}, "axis": {"title": "Wavelength [nm]", "values": [1000, 1200, 1400, 1600, 1800, 2000, 2200, 2400], "format": "d"}}
  },
  "layer": [
   {"mark": {"type": "line", "strokeWidth": 1.3, "clip": true}, "encoding": {"y": {"field": "b", "type": "quantitative", "scale": {"domain": [0, 0.00624], "nice": false}, "axis": {"title": "Flux", "values": [0, 0.001, 0.002, 0.003, 0.004, 0.005, 0.006], "format": ".3f", "minExtent": 51, "maxExtent": 51, "titlePadding": 4}}, "color": {"datum": "Extracted Spectrum", "scale": {"domain": ["Extracted Spectrum", "Telluric Corrected"], "range": ["black", "red"]}, "legend": {"orient": "none", "legendX": 371, "legendY": 7, "direction": "horizontal", "title": null, "symbolType": "stroke", "symbolSize": 784, "symbolStrokeWidth": 1, "fillColor": "rgba(255,255,255,0.8)", "strokeColor": "#cccccc", "cornerRadius": 3, "padding": 5, "columnPadding": 30, "labelOffset": 10}}}},
   {"mark": {"type": "line", "strokeWidth": 3, "clip": true}, "encoding": {"y": {"field": "r", "type": "quantitative"}, "color": {"datum": "Telluric Corrected"}}}
  ]
 },
 {
  "spacing": -12,
  "hconcat": [
   {
    "width": 328, "height": 300,
    "title": {"text": "Zoom 1", "fontSize": 13, "fontWeight": "normal", "offset": 3},
    "data": {"name": "z1"},
    "encoding": {"x": {"field": "x", "type": "quantitative", "scale": {"domain": [1082, 1085], "nice": false, "zero": false}, "axis": {"title": "Wavelength [nm]", "values": [1082, 1082.5, 1083, 1083.5, 1084, 1084.5, 1085], "format": ".1f"}}},
    "layer": [
     {"mark": {"type": "line", "color": "black", "strokeWidth": 1, "clip": true}, "encoding": {"y": {"field": "b", "type": "quantitative", "scale": {"domain": [0.000696, 0.005043], "nice": false, "zero": false}, "axis": {"title": "Flux", "values": [0.001, 0.0015, 0.002, 0.0025, 0.003, 0.0035, 0.004, 0.0045, 0.005], "format": ".4f", "minExtent": 51, "maxExtent": 51, "titlePadding": 4}}}},
     {"mark": {"type": "line", "color": "red", "strokeWidth": 1, "clip": true}, "encoding": {"y": {"field": "r", "type": "quantitative"}}}
    ]
   },
   {
    "width": 328, "height": 300,
    "title": {"text": "Zoom 2", "fontSize": 13, "fontWeight": "normal", "offset": 6},
    "data": {"name": "z2"},
    "encoding": {"x": {"field": "x", "type": "quantitative", "scale": {"domain": [1600, 1604], "nice": false, "zero": false}, "axis": {"title": "Wavelength [nm]", "values": [1600, 1601, 1602, 1603, 1604], "format": "d"}}},
    "layer": [
     {"mark": {"type": "line", "color": "black", "strokeWidth": 1, "clip": true}, "encoding": {"y": {"field": "b", "type": "quantitative", "scale": {"domain": [0.000862, 0.003692], "nice": false, "zero": false}, "axis": {"title": null, "values": [0.001, 0.0015, 0.002, 0.0025, 0.003, 0.0035], "format": ".4f"}}}},
     {"mark": {"type": "line", "color": "red", "strokeWidth": 1, "clip": true}, "encoding": {"y": {"field": "r", "type": "quantitative"}}}
    ]
   },
   {
    "width": 328, "height": 300,
    "title": {"text": "Zoom 3", "fontSize": 13, "fontWeight": "normal", "offset": 6},
    "data": {"name": "z3"},
    "encoding": {"x": {"field": "x", "type": "quantitative", "scale": {"domain": [2164, 2169], "nice": false, "zero": false}, "axis": {"title": "Wavelength [nm]", "values": [2164, 2165, 2166, 2167, 2168, 2169], "format": "d"}}},
    "layer": [
     {"mark": {"type": "line", "color": "black", "strokeWidth": 1, "clip": true}, "encoding": {"y": {"field": "b", "type": "quantitative", "scale": {"domain": [0.001028, 0.003768], "nice": false, "zero": false}, "axis": {"title": "Flux", "titleOpacity": 0, "titleFontSize": 6, "values": [0.0015, 0.002, 0.0025, 0.003, 0.0035], "format": ".4f", "minExtent": 53, "maxExtent": 53, "titlePadding": 0}}}},
     {"mark": {"type": "line", "color": "red", "strokeWidth": 1, "clip": true}, "encoding": {"y": {"field": "r", "type": "quantitative"}}}
    ]
   }
  ]
 }
]
}
